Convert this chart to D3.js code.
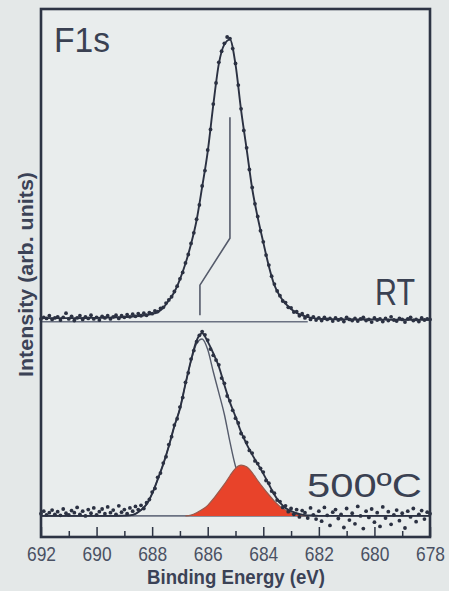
<!DOCTYPE html>
<meta charset="utf-8">
<script src="https://cdn.jsdelivr.net/npm/d3@7"></script>
<style>
  body { margin: 0; background: #e4e8e8; }
  svg text { font-family: "Liberation Sans", Arial, sans-serif; }
</style>
<div id="chart"></div>
<script>
// axis ticks (binding energy, eV)
var xTicksMajor = [692, 690, 688, 686, 684, 682, 680, 678];
var xTicksMinor = [691, 689, 687, 685, 683, 681, 679];

// RT spectrum, measured points every 0.1 eV from 692.0 to 678.0 (arb. units)
var rtData = [
  0.3, 0.6, 0.4, 0.9, 0.2, 0.5, 0.7, 0.1, 0.6, 1.4,
  0.3, 0.8, 0.0, 0.5, 0.9, 0.2, 0.7, 0.4, 1.0, 0.3,
  0.6, 0.1, 0.8, 0.5, 0.9, 0.3, 0.7, 1.0, 0.4, 0.9,
  0.6, 1.1, 0.7, 1.2, 0.8, 1.3, 0.9, 1.4, 1.0, 1.5,
  1.3, 1.8, 1.7, 2.3, 2.5, 3.3, 3.9, 4.5, 5.5, 6.5,
  7.9, 9.1, 10.9, 12.5, 14.6, 16.6, 19.2, 21.9, 25.5, 28.4,
  32.3, 36.2, 41.0, 45.0, 48.9, 51.0, 52.5, 53.7, 53.4, 51.5,
  48.7, 44.6, 40.1, 36.0, 32.7, 28.6, 25.2, 22.1, 19.7, 17.0,
  14.9, 12.4, 10.5, 8.4, 6.9, 5.6, 4.7, 3.7, 3.4, 2.5,
  2.4, 1.6, 1.7, 0.9, 1.3, 0.5, 0.9, 0.2, 0.7, 0.1,
  0.5, 0.0, 0.6, 0.2, 0.4, -0.1, 0.5, 0.1, 0.3, -0.2,
  0.6, 0.2, 0.0, 0.4, -0.1, 0.3, 0.6, 0.0, 0.2, -0.3,
  0.5, 0.1, 0.3, -0.2, 0.4, 0.0, 0.7, 0.1, -0.1, 0.4,
  0.2, -0.3, 0.3, 0.6, 0.0, 0.2, -0.2, 0.5, 0.1, 0.3,
  0.2
];
// RT fit, every 0.2 eV from 692.0 to 678.0
var rtFit = [
  0.45, 0.45, 0.45, 0.45, 0.45,
  0.45, 0.45, 0.45, 0.48, 0.5,
  0.5, 0.52, 0.55, 0.58, 0.62,
  0.66, 0.72, 0.8, 0.9, 1.05,
  1.25, 1.6, 2.4, 3.8, 5.4,
  7.8, 10.8, 14.5, 19.0, 25.3,
  32.0, 40.8, 48.6, 52.3, 53.2,
  48.5, 39.9, 32.5, 25.0, 19.5,
  14.8, 10.3, 6.7, 4.6, 3.2,
  2.2, 1.45, 1.0, 0.65, 0.45,
  0.35, 0.3, 0.28, 0.25, 0.23,
  0.22, 0.2, 0.2, 0.19, 0.18,
  0.18, 0.17, 0.17, 0.16, 0.16,
  0.15, 0.15, 0.15, 0.15, 0.15,
  0.15
];

// 500 C spectrum, every 0.1 eV from 692.0 to 678.0
var htData = [
  0.4, 0.9, 0.2, 0.6, 1.1, 0.3, 0.8, 0.1, 1.3, 0.5,
  0.2, 1.0, 0.6, 1.6, 0.3, 0.9, 0.0, 1.2, 0.5, 1.5,
  0.2, 0.8, 1.3, 0.4, 1.7, 0.6, 1.1, 0.3, 1.9, 0.7,
  1.2, 0.4, 1.5, 0.9, 1.8, 1.2, 2.0, 1.4, 2.5, 3.1,
  4.5, 5.2, 7.3, 8.1, 10.0, 11.2, 13.5, 15.0, 17.2, 18.4,
  20.6, 22.4, 25.3, 27.1, 29.7, 31.3, 33.0, 34.2, 34.9, 34.3,
  33.3, 31.6, 30.4, 29.5, 28.6, 26.1, 25.1, 22.7, 21.8, 20.0,
  18.5, 17.6, 15.6, 14.9, 13.9, 12.4, 11.9, 10.4, 9.9, 9.0,
  8.3, 6.7, 6.2, 4.7, 4.3, 3.0, 2.7, 1.6, 1.9, 0.8,
  1.4, 0.3, 1.2, -0.2, 1.0, 0.6, -0.4, 1.5, 0.2, -0.6,
  0.9, -1.0, 1.6, 0.1, -1.8, 0.7, 1.2, -0.5, 0.3, -2.2,
  1.4, -0.8, 0.5, -1.5, 1.8, 0.0, -2.4, 0.9, -0.3, 1.3,
  -1.2, 0.6, -2.0, 1.7, -0.4, 0.8, -1.6, 0.2, 1.1, -0.9,
  0.5, -2.3, 0.9, -0.2, 1.4, -1.1, 0.3, 1.0, -0.6, 0.7,
  0.4
];
// 500 C fits, every 0.2 eV from 692.0 to 678.0
var htFit = [
  0, 0, 0, 0, 0,
  0, 0, 0, 0, 0,
  0, 0, 0, 0, 0.02,
  0.05, 0.1, 0.4, 1.1, 2.2,
  4.2, 6.9, 9.8, 13.2, 17.0,
  20.3, 25.0, 29.5, 33.2, 34.6,
  33.0, 30.8, 28.3, 24.8, 21.5,
  18.8, 15.9, 13.6, 11.6, 9.8,
  8.0, 6.0, 4.0, 2.5, 1.5,
  0.9, 0.5, 0.25, 0.1, 0.05,
  0, 0, 0, 0, 0,
  0, 0, 0, 0, 0,
  0, 0, 0, 0, 0,
  0, 0, 0, 0, 0,
  0
];
var htMain = [
  0, 0, 0, 0, 0,
  0, 0, 0, 0, 0,
  0, 0, 0, 0, 0.02,
  0.05, 0.1, 0.4, 1.1, 2.2,
  4.2, 6.9, 9.8, 13.2, 17.0,
  20.3, 25.0, 29.3, 32.6, 33.5,
  31.5, 27.3, 23.3, 19.2, 14.0,
  9.4, 6.8, 5.0, 3.6, 2.8,
  2.2, 1.5, 1.0, 0.6, 0.35,
  0.2, 0.1, 0, 0, 0,
  0, 0, 0, 0, 0,
  0, 0, 0, 0, 0,
  0, 0, 0, 0, 0,
  0, 0, 0, 0, 0,
  0
];
var htRed = [
  0, 0, 0, 0, 0,
  0, 0, 0, 0, 0,
  0, 0, 0, 0, 0,
  0, 0, 0, 0, 0,
  0, 0, 0, 0, 0,
  0, 0, 0.15, 0.6, 1.2,
  2.0, 3.2, 4.6, 6.0, 7.6,
  9.0, 9.6, 9.3, 8.2, 6.7,
  5.3, 4.0, 2.8, 1.8, 1.1,
  0.6, 0.3, 0.1, 0, 0,
  0, 0, 0, 0, 0,
  0, 0, 0, 0, 0,
  0, 0, 0, 0, 0,
  0, 0, 0, 0, 0,
  0
];

// offset of the RT spectrum above the 500 C one
var rtOffset = 37;
// peak-shift marker (eV, RT units)
var markerE = [685.2, 685.2, 686.28, 686.28];
var markerI = [38.5, 15.6, 6.7, 1.0];
// background lines
var bgE = [692, 682.4];
var rtBg = [-0.23, -0.23];
var htBg = [0, 0];

var dataE = d3.range(rtData.length).map(function(i) { return +(692 - i * 0.1).toFixed(1); });
var fitE = d3.range(rtFit.length).map(function(i) { return +(692 - i * 0.2).toFixed(1); });

var W = 449, H = 591;
var pL = 41, pR = 430, pT = 9, pB = 537;

var svg = d3.select("#chart").append("svg")
  .attr("width", W).attr("height", H);

svg.append("rect").attr("x", pL).attr("y", pT)
  .attr("width", pR - pL).attr("height", pB - pT)
  .attr("fill", "#e9eded");

var x = d3.scaleLinear().domain([692, 678]).range([pL, pR]);
var y = d3.scaleLinear().domain([-4, 96]).range([pB, pT]);

function pts(E, V, off) {
  return E.map(function(e, i) { return [e, V[i] + off]; });
}
var line = d3.line()
  .x(function(d) { return x(d[0]); })
  .y(function(d) { return y(d[1]); })
  .curve(d3.curveMonotoneX);

var plot = svg.append("g");

// background lines
plot.append("path").attr("d", line(pts(bgE, rtBg, rtOffset)))
  .attr("fill", "none").attr("stroke", "#6b7282").attr("stroke-width", 1.6);
plot.append("path").attr("d", line(pts(bgE, htBg, 0)))
  .attr("fill", "none").attr("stroke", "#6b7282").attr("stroke-width", 1.6);

// peak-shift marker
plot.append("path").attr("d", d3.line()
    .x(function(d) { return x(d[0]); })
    .y(function(d) { return y(d[1]); })(pts(markerE, markerI, rtOffset)))
  .attr("fill", "none").attr("stroke", "#555b6b").attr("stroke-width", 1.6);

// 500 C main component
plot.append("path").attr("d", line(pts(fitE, htMain, 0)))
  .attr("fill", "none").attr("stroke", "#555b6b").attr("stroke-width", 1.4);

// 500 C red component
var redPts = pts(fitE, htRed, 0);
plot.append("path")
  .attr("d", d3.area()
    .x(function(d) { return x(d[0]); })
    .y0(y(0))
    .y1(function(d) { return y(d[1]); })
    .curve(d3.curveMonotoneX)(redPts))
  .attr("fill", "#e8432a");
var redTop = redPts.filter(function(d, i) {
  return d[1] > 0 || (htRed[i - 1] > 0) || (htRed[i + 1] > 0);
});
plot.append("path").attr("d", line(redTop))
  .attr("fill", "none").attr("stroke", "#9a5a4c").attr("stroke-width", 1.2);

// fits
plot.append("path").attr("d", line(pts(fitE, rtFit, rtOffset)))
  .attr("fill", "none").attr("stroke", "#2b3142").attr("stroke-width", 1.9);
plot.append("path").attr("d", line(pts(fitE, htFit, 0)))
  .attr("fill", "none").attr("stroke", "#2b3142").attr("stroke-width", 1.9);

// data points
plot.selectAll("circle.rt").data(pts(dataE, rtData, rtOffset)).enter()
  .append("circle").attr("class", "rt")
  .attr("cx", function(d) { return x(d[0]); })
  .attr("cy", function(d) { return y(d[1]); })
  .attr("r", 1.9).attr("fill", "#2b3142");
plot.selectAll("circle.ht").data(pts(dataE, htData, 0)).enter()
  .append("circle").attr("class", "ht")
  .attr("cx", function(d) { return x(d[0]); })
  .attr("cy", function(d) { return y(d[1]); })
  .attr("r", 1.9).attr("fill", "#2b3142");

// frame
svg.append("rect").attr("x", pL).attr("y", pT)
  .attr("width", pR - pL).attr("height", pB - pT)
  .attr("fill", "none").attr("stroke", "#2d3444").attr("stroke-width", 2.6);

// ticks (inside)
svg.append("g").attr("transform", "translate(0," + pB + ")")
  .call(d3.axisBottom(x).tickValues(xTicksMinor).tickSize(-6).tickFormat(""))
  .call(function(g) {
    g.select(".domain").remove();
    g.selectAll("line").attr("stroke", "#2d3444").attr("stroke-width", 1.5);
  });
var ax = svg.append("g").attr("transform", "translate(0," + pB + ")")
  .call(d3.axisBottom(x).tickValues(xTicksMajor).tickSize(-10).tickPadding(9).tickFormat(d3.format("d")));
ax.select(".domain").remove();
ax.selectAll("line").attr("stroke", "#2d3444").attr("stroke-width", 1.5);
ax.selectAll("text")
  .attr("font-family", "Liberation Sans, Arial, sans-serif")
  .attr("font-size", 21).attr("fill", "#4a5163")
  .attr("textLength", 29).attr("lengthAdjust", "spacingAndGlyphs");

// axis titles
svg.append("text")
  .attr("x", 236).attr("y", 584)
  .attr("text-anchor", "middle")
  .attr("font-size", 21).attr("font-weight", "bold").attr("fill", "#3b4256")
  .attr("textLength", 178).attr("lengthAdjust", "spacingAndGlyphs")
  .text("Binding Energy (eV)");
svg.append("text")
  .attr("transform", "translate(33,274.5) rotate(-90)")
  .attr("text-anchor", "middle")
  .attr("font-size", 21).attr("font-weight", "bold").attr("fill", "#3b4256")
  .attr("textLength", 205).attr("lengthAdjust", "spacingAndGlyphs")
  .text("Intensity (arb. units)");

// labels
function label(txt, px, py, size, len) {
  svg.append("text").attr("x", px).attr("y", py)
    .attr("font-family", "DejaVu Sans, sans-serif")
    .attr("font-size", size).attr("fill", "#3a4152")
    .attr("textLength", len).attr("lengthAdjust", "spacingAndGlyphs")
    .text(txt);
}
label("F1s", 54, 52, 35, 56);
label("RT", 375, 305, 37, 40);
label("500ºC", 307, 497, 34, 115);
</script>
